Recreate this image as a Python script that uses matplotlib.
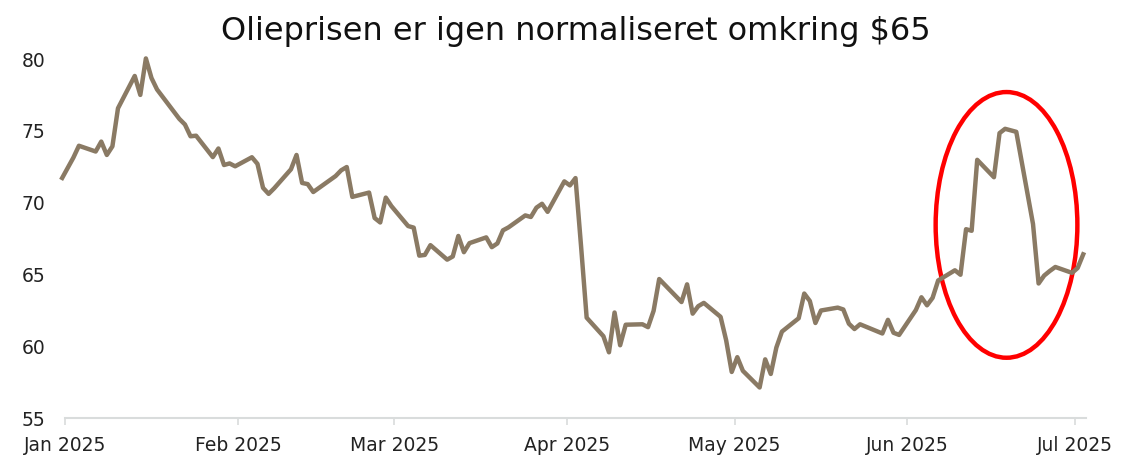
import pandas as pd
import matplotlib
matplotlib.use("Agg")
import matplotlib.pyplot as plt
import matplotlib.dates as mdates
from matplotlib.patches import Ellipse

# Olieprisen (USD pr. tønde), handelsdage
dates = pd.to_datetime([
    "2024-12-31", "2025-01-02", "2025-01-03", "2025-01-06", "2025-01-07", "2025-01-08",
    "2025-01-09", "2025-01-10", "2025-01-13", "2025-01-14", "2025-01-15", "2025-01-16",
    "2025-01-17", "2025-01-21", "2025-01-22", "2025-01-23", "2025-01-24", "2025-01-27",
    "2025-01-28", "2025-01-29", "2025-01-30", "2025-01-31", "2025-02-03", "2025-02-04",
    "2025-02-05", "2025-02-06", "2025-02-07", "2025-02-10", "2025-02-11", "2025-02-12",
    "2025-02-13", "2025-02-14", "2025-02-18", "2025-02-19", "2025-02-20", "2025-02-21",
    "2025-02-24", "2025-02-25", "2025-02-26", "2025-02-27", "2025-02-28", "2025-03-03",
    "2025-03-04", "2025-03-05", "2025-03-06", "2025-03-07", "2025-03-10", "2025-03-11",
    "2025-03-12", "2025-03-13", "2025-03-14", "2025-03-17", "2025-03-18", "2025-03-19",
    "2025-03-20", "2025-03-21", "2025-03-24", "2025-03-25", "2025-03-26", "2025-03-27",
    "2025-03-28", "2025-03-31", "2025-04-01", "2025-04-02", "2025-04-03", "2025-04-04",
    "2025-04-07", "2025-04-08", "2025-04-09", "2025-04-10", "2025-04-11", "2025-04-14",
    "2025-04-15", "2025-04-16", "2025-04-17", "2025-04-21", "2025-04-22", "2025-04-23",
    "2025-04-24", "2025-04-25", "2025-04-28", "2025-04-29", "2025-04-30", "2025-05-01",
    "2025-05-02", "2025-05-05", "2025-05-06", "2025-05-07", "2025-05-08", "2025-05-09",
    "2025-05-12", "2025-05-13", "2025-05-14", "2025-05-15", "2025-05-16", "2025-05-19",
    "2025-05-20", "2025-05-21", "2025-05-22", "2025-05-23", "2025-05-27", "2025-05-28",
    "2025-05-29", "2025-05-30", "2025-06-02", "2025-06-03", "2025-06-04", "2025-06-05",
    "2025-06-06", "2025-06-09", "2025-06-10", "2025-06-11", "2025-06-12", "2025-06-13",
    "2025-06-16", "2025-06-17", "2025-06-18", "2025-06-20", "2025-06-23", "2025-06-24",
    "2025-06-25", "2025-06-26", "2025-06-27", "2025-06-30", "2025-07-01", "2025-07-02",
])
price = [
    71.72, 73.13, 73.96, 73.56, 74.25, 73.32,
    73.92, 76.57, 78.82, 77.50, 80.04, 78.68,
    77.88, 75.83, 75.44, 74.62, 74.66, 73.17,
    73.77, 72.62, 72.73, 72.53, 73.16, 72.70,
    71.03, 70.61, 71.00, 72.32, 73.32, 71.37,
    71.29, 70.74, 71.85, 72.25, 72.48, 70.40,
    70.70, 68.93, 68.62, 70.35, 69.76, 68.37,
    68.26, 66.31, 66.36, 67.04, 66.03, 66.25,
    67.68, 66.55, 67.18, 67.58, 66.90, 67.16,
    68.07, 68.28, 69.11, 69.00, 69.65, 69.92,
    69.36, 71.48, 71.20, 71.71, 66.95, 61.99,
    60.70, 59.58, 62.35, 60.07, 61.50, 61.53,
    61.33, 62.47, 64.68, 63.08, 64.31, 62.27,
    62.79, 63.02, 62.05, 60.42, 58.21, 59.24,
    58.29, 57.13, 59.09, 58.07, 59.91, 61.02,
    61.95, 63.67, 63.15, 61.62, 62.49, 62.69,
    62.56, 61.57, 61.20, 61.53, 60.89, 61.84,
    60.94, 60.79, 62.52, 63.41, 62.85, 63.37,
    64.58, 65.29, 64.98, 68.15, 68.04, 72.98,
    71.77, 74.84, 75.14, 74.93, 68.51, 64.37,
    64.92, 65.24, 65.52, 65.11, 65.45, 66.40,
]

title = "Olieprisen er igen normaliseret omkring $65"
line_color = "#8a7a64"

fig = plt.figure(figsize=(11.36, 4.74), dpi=100)
ax = fig.add_axes([0.0572, 0.118, 0.8988, 0.7575])

# points sit at mid-day in the original
ax.plot(dates + pd.Timedelta(hours=12), price, color=line_color, lw=3.2,
        solid_joinstyle="round", clip_on=False)

# red ring around the June spike
cx = mdates.date2num(pd.Timestamp("2025-06-18 18:00"))
ax.add_patch(Ellipse((cx, 68.45), width=25.4, height=18.5, fill=False,
                     edgecolor="#ff0000", lw=3.2, clip_on=False))

ax.set_xlim(pd.Timestamp("2025-01-01"), pd.Timestamp("2025-07-03"))
ax.set_ylim(55, 80)
ax.set_yticks([55, 60, 65, 70, 75, 80])
ax.xaxis.set_major_locator(mdates.MonthLocator())
ax.xaxis.set_major_formatter(mdates.DateFormatter("%b %Y"))

for s in ["top", "right", "left"]:
    ax.spines[s].set_visible(False)
ax.spines["bottom"].set_color("#d9dcdc")
ax.spines["bottom"].set_linewidth(1.5)
ax.tick_params(axis="y", length=0, pad=14, labelsize=13.5, labelcolor="#222222")
ax.tick_params(axis="x", length=5, width=1.2, color="#d9dcdc", pad=8,
               labelsize=13.5, labelcolor="#222222")

ax.set_title(title, fontsize=23, color="#111111", pad=14)

fig.savefig("out.png", dpi=100)
